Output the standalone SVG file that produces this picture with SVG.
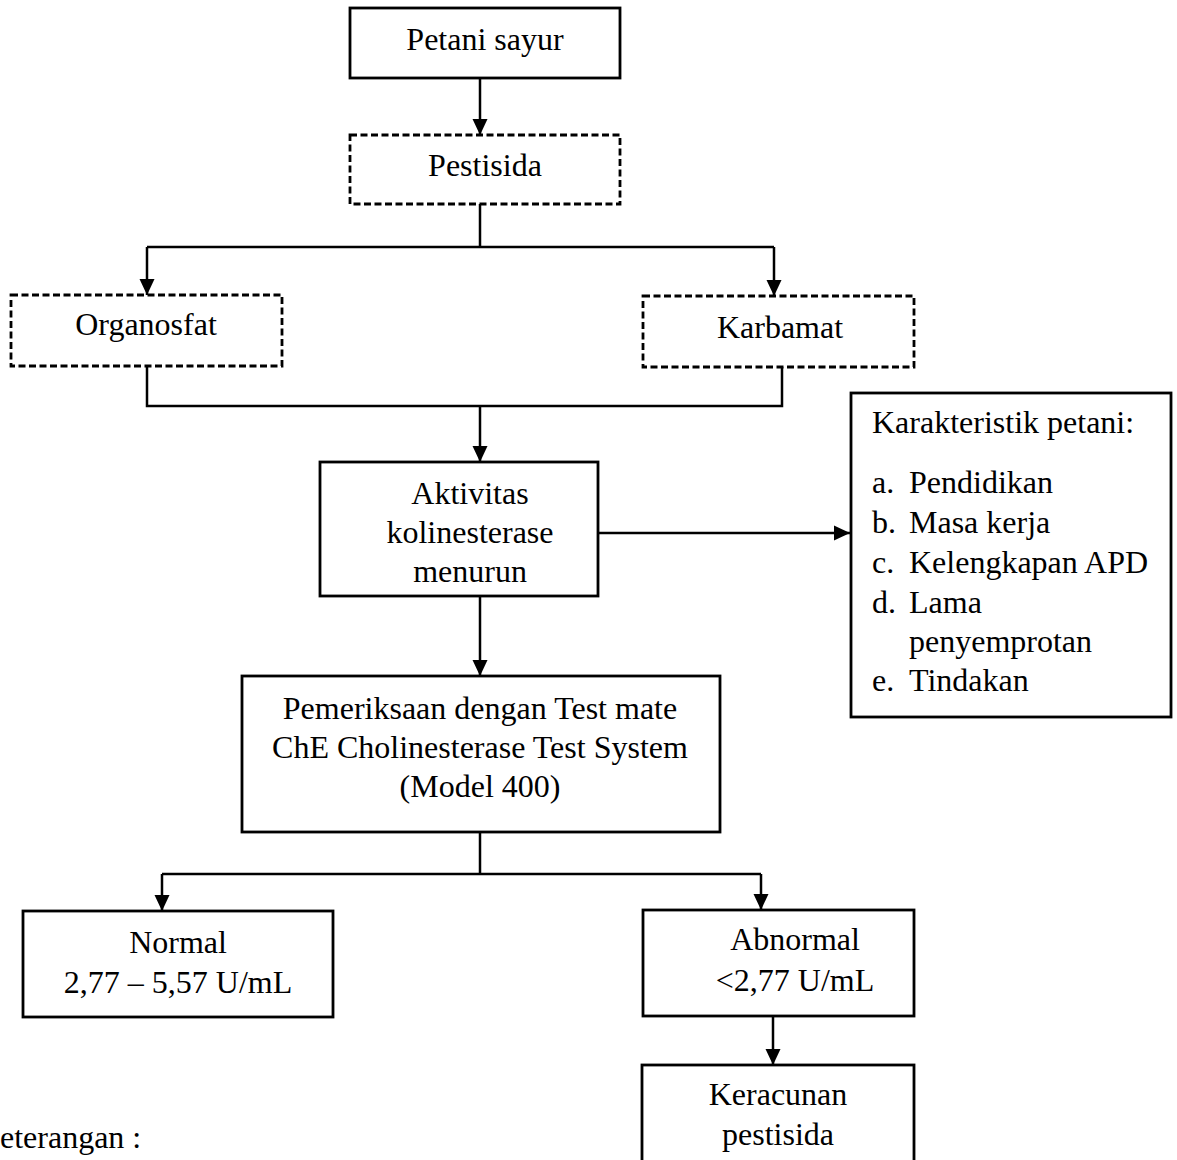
<svg xmlns="http://www.w3.org/2000/svg" width="1177" height="1160" viewBox="0 0 1177 1160">
<style>
.box{fill:#fff;stroke:#000;stroke-width:2.8}
.dash{fill:#fff;stroke:#000;stroke-width:2.8;stroke-dasharray:7 3.5}
.ln{fill:none;stroke:#000;stroke-width:2.5}
text{font-family:"Liberation Serif","Times New Roman",serif;font-size:32px;fill:#000}
.c{text-anchor:middle}
</style>
<defs>
<marker id="ah" markerUnits="userSpaceOnUse" markerWidth="18" markerHeight="18" viewBox="0 0 18 18" refX="17" refY="9" orient="auto">
<path d="M1,1.5 L17,9 L1,16.5 Z" fill="#000"/>
</marker>
</defs>
<rect width="1177" height="1160" fill="#fff"/>
<g id="connectors">
<line class="ln" x1="480" y1="78" x2="480" y2="135" marker-end="url(#ah)"/>
<polyline class="ln" points="480,204 480,247"/>
<polyline class="ln" points="147,247 774,247"/>
<line class="ln" x1="147" y1="247" x2="147" y2="295" marker-end="url(#ah)"/>
<line class="ln" x1="774" y1="247" x2="774" y2="296" marker-end="url(#ah)"/>
<polyline class="ln" points="147,366 147,406 782,406 782,367"/>
<line class="ln" x1="480" y1="406" x2="480" y2="462" marker-end="url(#ah)"/>
<line class="ln" x1="598" y1="533" x2="850" y2="533" marker-end="url(#ah)"/>
<line class="ln" x1="480" y1="596" x2="480" y2="676" marker-end="url(#ah)"/>
<polyline class="ln" points="480,832 480,874"/>
<polyline class="ln" points="162,874 761,874"/>
<line class="ln" x1="162" y1="874" x2="162" y2="911" marker-end="url(#ah)"/>
<line class="ln" x1="761" y1="874" x2="761" y2="910" marker-end="url(#ah)"/>
<line class="ln" x1="773" y1="1016" x2="773" y2="1065" marker-end="url(#ah)"/>
</g>
<g id="petani-sayur">
<rect class="box" x="350" y="8" width="270" height="70"/>
<text class="c" x="485" y="50">Petani sayur</text>
</g>
<g id="pestisida">
<rect class="dash" x="350" y="135" width="270" height="69"/>
<text class="c" x="485" y="176">Pestisida</text>
</g>
<g id="organosfat">
<rect class="dash" x="11" y="295" width="271" height="71"/>
<text class="c" x="146" y="335">Organosfat</text>
</g>
<g id="karbamat">
<rect class="dash" x="643" y="296" width="271" height="71"/>
<text class="c" x="780" y="338">Karbamat</text>
</g>
<g id="aktivitas">
<rect class="box" x="320" y="462" width="278" height="134"/>
<text class="c" x="470" y="504">Aktivitas</text>
<text class="c" x="470" y="543">kolinesterase</text>
<text class="c" x="470" y="582">menurun</text>
</g>
<g id="karakteristik">
<rect class="box" x="851" y="393" width="320" height="324"/>
<text x="872" y="433">Karakteristik petani:</text>
<text x="872" y="493">a.</text><text x="909" y="493">Pendidikan</text>
<text x="872" y="533">b.</text><text x="909" y="533">Masa kerja</text>
<text x="872" y="573">c.</text><text x="909" y="573">Kelengkapan APD</text>
<text x="872" y="613">d.</text><text x="909" y="613">Lama</text>
<text x="909" y="652">penyemprotan</text>
<text x="872" y="691">e.</text><text x="909" y="691">Tindakan</text>
</g>
<g id="pemeriksaan">
<rect class="box" x="242" y="676" width="478" height="156"/>
<text class="c" x="480" y="719">Pemeriksaan dengan Test mate</text>
<text class="c" x="480" y="758">ChE Cholinesterase Test System</text>
<text class="c" x="480" y="797">(Model 400)</text>
</g>
<g id="normal">
<rect class="box" x="23" y="911" width="310" height="106"/>
<text class="c" x="178" y="953">Normal</text>
<text class="c" x="178" y="993">2,77 – 5,57 U/mL</text>
</g>
<g id="abnormal">
<rect class="box" x="643" y="910" width="271" height="106"/>
<text class="c" x="795" y="950">Abnormal</text>
<text class="c" x="795" y="991">&lt;2,77 U/mL</text>
</g>
<g id="keracunan">
<rect class="box" x="642" y="1065" width="272" height="110"/>
<text class="c" x="778" y="1105">Keracunan</text>
<text class="c" x="778" y="1145">pestisida</text>
</g>
<g id="keterangan">
<text x="0" y="1148">eterangan :</text>
</g>
</svg>
